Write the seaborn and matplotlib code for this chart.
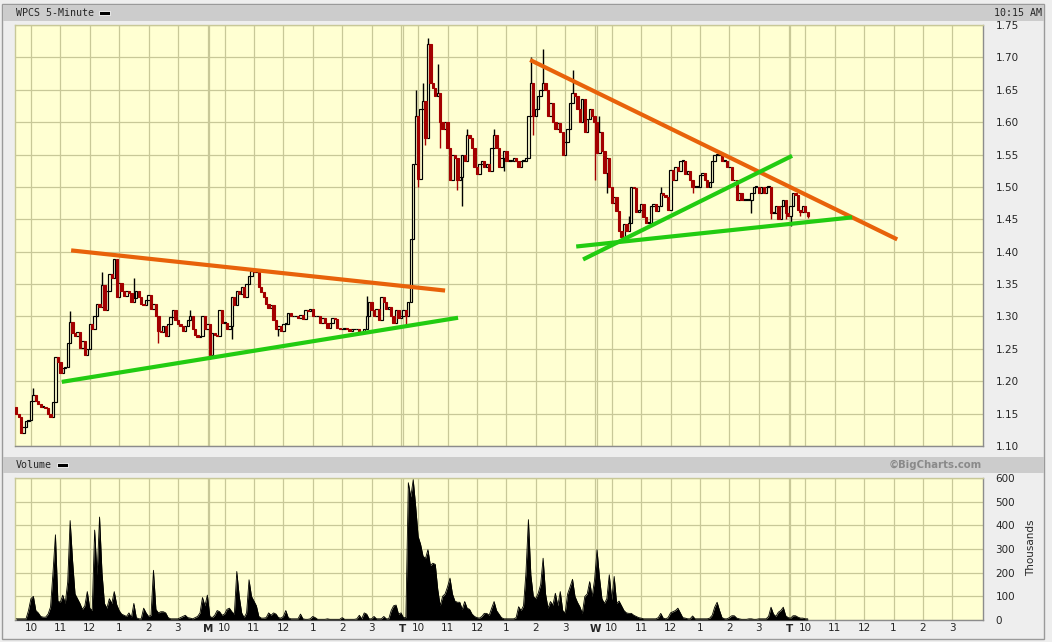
import numpy as np
import pandas as pd
import matplotlib
matplotlib.use("Agg")
import matplotlib.pyplot as plt
import matplotlib.transforms as mtransforms
from matplotlib.patches import Rectangle
import seaborn as sns

W, H = 1052, 642
SLOTS = 79  # 5-minute slots per session, 9:30 .. 16:00

# ---- values ----
session_letters = ["", "M", "T", "W", "T"]
hour_labels = ["10", "11", "12", "1", "2", "3"]
hour_slots = [6, 18, 30, 42, 54, 66]
price_ticks = [1.10, 1.15, 1.20, 1.25, 1.30, 1.35, 1.40, 1.45, 1.50, 1.55, 1.60, 1.65, 1.70, 1.75]
volume_ticks = [0, 100, 200, 300, 400, 500, 600]

first_open = 1.16
close_fri = [1.150, 1.145, 1.120, 1.130, 1.138, 1.140, 1.169, 1.179, 1.170, 1.165,
             1.160, 1.160, 1.158, 1.150, 1.145, 1.168, 1.238, 1.230, 1.212, 1.220,
             1.222, 1.259, 1.292, 1.274, 1.270, 1.276, 1.252, 1.262, 1.240, 1.250,
             1.288, 1.280, 1.300, 1.320, 1.314, 1.349, 1.310, 1.339, 1.365, 1.360,
             1.389, 1.330, 1.352, 1.340, 1.332, 1.339, 1.336, 1.322, 1.329, 1.339,
             1.330, 1.320, 1.318, 1.325, 1.333, 1.312, 1.320, 1.300, 1.278, 1.276,
             1.285, 1.270, 1.289, 1.299, 1.310, 1.295, 1.289, 1.285, 1.278, 1.285,
             1.295, 1.300, 1.280, 1.272, 1.268, 1.270, 1.300, 1.280, 1.288]
close_mon = [1.240, 1.275, 1.272, 1.270, 1.310, 1.290, 1.290, 1.280, 1.285, 1.330,
             1.318, 1.340, 1.335, 1.345, 1.330, 1.350, 1.362, 1.370, 1.368, 1.370,
             1.345, 1.338, 1.330, 1.320, 1.313, 1.318, 1.295, 1.280, 1.285, 1.278,
             1.288, 1.288, 1.305, 1.300, 1.300, 1.300, 1.298, 1.302, 1.296, 1.310,
             1.308, 1.312, 1.300, 1.300, 1.300, 1.290, 1.298, 1.290, 1.282, 1.290,
             1.298, 1.296, 1.282, 1.280, 1.280, 1.282, 1.280, 1.278, 1.280, 1.280,
             1.281, 1.275, 1.276, 1.280, 1.300, 1.322, 1.310, 1.300, 1.312, 1.295,
             1.330, 1.322, 1.312, 1.315, 1.300, 1.290, 1.310, 1.298, 1.300]
close_tue = [1.310, 1.300, 1.322, 1.420, 1.536, 1.610, 1.512, 1.620, 1.632, 1.575,
             1.720, 1.660, 1.652, 1.640, 1.645, 1.600, 1.590, 1.600, 1.560, 1.510,
             1.550, 1.545, 1.510, 1.515, 1.550, 1.540, 1.580, 1.575, 1.560, 1.530,
             1.520, 1.535, 1.540, 1.530, 1.535, 1.525, 1.560, 1.580, 1.560, 1.530,
             1.545, 1.555, 1.540, 1.540, 1.540, 1.545, 1.540, 1.530, 1.540, 1.540,
             1.545, 1.610, 1.660, 1.610, 1.620, 1.640, 1.650, 1.660, 1.650, 1.610,
             1.630, 1.600, 1.590, 1.598, 1.585, 1.550, 1.570, 1.590, 1.630, 1.645,
             1.640, 1.620, 1.600, 1.635, 1.585, 1.605, 1.620, 1.610, 1.600]
close_wed = [1.553, 1.585, 1.555, 1.522, 1.545, 1.500, 1.475, 1.484, 1.463, 1.432,
             1.422, 1.442, 1.432, 1.445, 1.500, 1.498, 1.462, 1.465, 1.473, 1.453,
             1.445, 1.445, 1.470, 1.473, 1.463, 1.470, 1.491, 1.488, 1.485, 1.465,
             1.526, 1.510, 1.530, 1.525, 1.540, 1.540, 1.520, 1.525, 1.510, 1.500,
             1.500, 1.500, 1.518, 1.522, 1.510, 1.500, 1.508, 1.540, 1.550, 1.550,
             1.550, 1.540, 1.540, 1.530, 1.530, 1.510, 1.510, 1.480, 1.490, 1.480,
             1.480, 1.480, 1.480, 1.490, 1.500, 1.500, 1.490, 1.500, 1.490, 1.500,
             1.500, 1.460, 1.460, 1.470, 1.450, 1.470, 1.480, 1.460, 1.455]
close_thu = [1.470, 1.490, 1.488, 1.464, 1.461, 1.470, 1.462, 1.455]

# volume in thousands
vol_fri = [5, 5, 5, 5, 5, 40, 90, 100, 40, 30,
           15, 12, 12, 25, 55, 200, 360, 80, 75, 105,
           70, 160, 420, 250, 110, 90, 70, 45, 60, 120,
           50, 40, 380, 190, 435, 200, 70, 50, 90, 70,
           120, 65, 40, 25, 20, 15, 30, 10, 70, 10,
           5, 5, 50, 30, 15, 20, 210, 45, 30, 35,
           35, 30, 10, 5, 5, 5, 5, 10, 15, 20,
           10, 8, 5, 10, 15, 30, 95, 60, 105]
vol_mon = [15, 10, 20, 40, 35, 20, 25, 45, 50, 35,
           25, 205, 100, 30, 10, 30, 170, 100, 80, 60,
           15, 8, 8, 10, 30, 20, 30, 25, 10, 8,
           15, 40, 10, 5, 5, 5, 5, 25, 5, 3,
           3, 5, 15, 10, 3, 3, 3, 3, 5, 3,
           3, 3, 3, 3, 10, 3, 3, 3, 3, 3,
           5, 20, 5, 30, 25, 5, 5, 15, 5, 5,
           5, 15, 5, 5, 40, 60, 63, 25, 30]
vol_tue = [10, 10, 580, 520, 593, 480, 353, 320, 270, 260,
           297, 230, 240, 235, 130, 60, 100, 110, 140, 177,
           110, 80, 75, 75, 45, 78, 50, 45, 25, 15,
           10, 8, 15, 28, 28, 20, 50, 78, 40, 25,
           10, 5, 5, 5, 5, 5, 10, 56, 40, 60,
           200, 424, 190, 100, 90, 113, 150, 261, 110, 50,
           78, 63, 113, 60, 120, 40, 30, 110, 140, 172,
           100, 75, 56, 28, 99, 110, 162, 99, 170]
vol_wed = [297, 180, 90, 70, 90, 191, 85, 184, 71, 80,
           60, 40, 30, 28, 28, 20, 15, 10, 8, 5,
           5, 5, 5, 5, 5, 10, 28, 8, 5, 10,
           30, 35, 40, 50, 30, 10, 8, 5, 5, 17,
           5, 5, 5, 5, 5, 5, 8, 20, 54, 75,
           40, 10, 5, 5, 10, 18, 18, 8, 5, 3,
           3, 3, 5, 5, 3, 3, 5, 5, 5, 5,
           15, 54, 25, 15, 33, 40, 54, 18, 10]
vol_thu = [8, 18, 18, 12, 8, 8, 5, 5]

# (session, slot, wick end price)
wick_points = [(0, 7, 1.19), (0, 22, 1.309), (0, 35, 1.369), (0, 48, 1.36), (0, 58, 1.259),
               (0, 71, 1.31), (1, 0, 1.235), (1, 9, 1.265), (1, 28, 1.27), (1, 64, 1.332),
               (2, 1, 1.285), (2, 5, 1.65), (2, 6, 1.50), (2, 8, 1.66), (2, 9, 1.565),
               (2, 10, 1.73), (2, 14, 1.69), (2, 15, 1.56), (2, 22, 1.495), (2, 24, 1.47),
               (2, 26, 1.59), (2, 37, 1.59), (2, 41, 1.525), (2, 52, 1.70), (2, 53, 1.58),
               (2, 57, 1.713), (2, 69, 1.68), (2, 78, 1.51), (3, 1, 1.61), (3, 4, 1.49),
               (3, 10, 1.415), (3, 13, 1.455), (3, 26, 1.50), (3, 39, 1.49), (3, 63, 1.46),
               (3, 71, 1.45), (3, 77, 1.45), (4, 0, 1.44), (4, 4, 1.455), (4, 7, 1.452)]

# trend lines drawn on the chart: (slot0, price0, slot1, price1)
trend_orange = [(22.4, 1.402, 175.0, 1.340), (209.7, 1.696, 359.5, 1.419)]
trend_green = [(18.6, 1.199, 180.3, 1.298), (228.5, 1.408, 341.1, 1.453),
               (231.3, 1.388, 316.6, 1.548)]

BG = "#EEEEEE"
PLOT_BG = "#FFFFD2"
GRID = "#C8C898"
DOWN = "#A30000"
ORANGE = "#E8620A"
GREEN = "#22CC11"
FRAME = "#8C8C8C"


def fig_box(x0, y0, x1, y1):
    """Pixel box (top-left origin) to figure fraction."""
    return [x0 / W, 1 - y1 / H, (x1 - x0) / W, (y1 - y0) / H]


def build_frame():
    closes = [close_fri, close_mon, close_tue, close_wed, close_thu]
    vols = [vol_fri, vol_mon, vol_tue, vol_wed, vol_thu]
    rows = []
    for d, (cl, vo) in enumerate(zip(closes, vols)):
        for i, c in enumerate(cl):
            rows.append({"day": d, "slot": i, "x": d * SLOTS + i, "close": c,
                         "volume": vo[i] if i < len(vo) else 0})
    df = pd.DataFrame(rows)
    df["open"] = df["close"].shift(1).fillna(first_open)
    return df


def style_axes(ax, ylim, yticks, ylabels):
    ax.set_facecolor(PLOT_BG)
    ax.set_xlim(-0.5, 5 * SLOTS - 0.5)
    ax.set_ylim(*ylim)
    for d in range(5):
        for h in hour_slots:
            ax.axvline(d * SLOTS + h, color=GRID, lw=0.9, zorder=0)
        if d > 0:
            b = d * SLOTS - 0.5
            ax.axvline(b - 0.35, color=GRID, lw=0.9, zorder=0)
            ax.axvline(b + 0.35, color=GRID, lw=0.9, zorder=0)
    for t in yticks:
        ax.axhline(t, color=GRID, lw=0.9, zorder=0)
    ax.yaxis.tick_right()
    ax.set_yticks(yticks)
    ax.set_yticklabels(ylabels)
    ax.tick_params(axis="y", length=0, pad=9, labelsize=7.5)
    ax.set_xticks([])
    ax.set_xlabel("")
    ax.set_ylabel("")
    for side in ["top", "left"]:
        ax.spines[side].set_color(GRID)
    for side in ["right", "bottom"]:
        ax.spines[side].set_color(FRAME)
    for sp in ax.spines.values():
        sp.set_linewidth(1.0)


def draw_candles(ax, df):
    up = df["close"] >= df["open"]
    lo = np.minimum(df["open"], df["close"])
    hgt = np.maximum((df["close"] - df["open"]).abs(), 0.0012)
    ax.bar(df.loc[up, "x"], hgt[up], bottom=lo[up], width=0.95,
           facecolor=PLOT_BG, edgecolor="black", linewidth=0.85, zorder=3)
    ax.bar(df.loc[~up, "x"], hgt[~up], bottom=lo[~up], width=0.95,
           facecolor=DOWN, edgecolor=DOWN, linewidth=0.8, zorder=3)
    for d, s, p in wick_points:
        row = df[(df["day"] == d) & (df["slot"] == s)]
        if row.empty:
            continue
        r = row.iloc[0]
        top = max(r["open"], r["close"])
        bot = min(r["open"], r["close"])
        col = "black" if r["close"] >= r["open"] else DOWN
        if p > top:
            ax.vlines(r["x"], top, p, color=col, lw=1.0, zorder=2)
        elif p < bot:
            ax.vlines(r["x"], p, bot, color=col, lw=1.0, zorder=2)


def draw_trends(ax, lines, color):
    pts = []
    for k, (x0, y0, x1, y1) in enumerate(lines):
        pts.append({"line": k, "x": x0, "price": y0})
        pts.append({"line": k, "x": x1, "price": y1})
    tdf = pd.DataFrame(pts)
    sns.lineplot(data=tdf, x="x", y="price", units="line", estimator=None,
                 color=color, lw=3, ax=ax, legend=False, zorder=5,
                 solid_capstyle="butt")


def main():
    sns.set_theme(style="white")
    plt.rcParams["font.family"] = ["DejaVu Sans"]
    df = build_frame()

    fig = plt.figure(figsize=(W / 100, H / 100), dpi=100)
    fig.patch.set_facecolor(BG)

    # frame and header bands
    fig.add_artist(Rectangle((1.5 / W, 1 - 639 / H), 1042.5 / W, 635.5 / H,
                             transform=fig.transFigure, fill=False,
                             edgecolor="#9A9A9A", lw=1))
    for y0, y1 in [(4.5, 20.5), (456.5, 472.5)]:
        fig.add_artist(Rectangle((2.5 / W, 1 - y1 / H), 1041.5 / W, (y1 - y0) / H,
                                 transform=fig.transFigure, color="#CCCCCC", lw=0))

    mono = "DejaVu Sans Mono"
    fig.text(16 / W, 1 - 12.5 / H, "WPCS 5-Minute", family=mono, size=7.2, va="center")
    fig.add_artist(Rectangle((99 / W, 1 - 14.5 / H), 11 / W, 4 / H,
                             transform=fig.transFigure, facecolor="black",
                             edgecolor="white", lw=0.6))
    fig.text(1042 / W, 1 - 12.5 / H, "10:15 AM", family=mono, size=7.2,
             va="center", ha="right")
    fig.text(16 / W, 1 - 464.5 / H, "Volume", family=mono, size=7.2, va="center")
    fig.add_artist(Rectangle((57 / W, 1 - 466.5 / H), 11 / W, 4 / H,
                             transform=fig.transFigure, facecolor="black",
                             edgecolor="white", lw=0.6))
    fig.text(982 / W, 1 - 464.5 / H, "\u00a9BigCharts.com", size=7.3, weight="bold",
             color="#8A8A8A", va="center", ha="right")

    # price panel
    ax_p = fig.add_axes(fig_box(15, 25, 983, 446))
    style_axes(ax_p, (1.10, 1.75), price_ticks, [f"{t:.2f}" for t in price_ticks])
    draw_candles(ax_p, df)
    draw_trends(ax_p, trend_orange, ORANGE)
    draw_trends(ax_p, trend_green, GREEN)
    ax_p.set_xlabel("")
    ax_p.set_ylabel("")

    # volume panel
    ax_v = fig.add_axes(fig_box(15, 478, 983, 620))
    style_axes(ax_v, (0, 600), volume_ticks, [str(t) for t in volume_ticks])
    ax_v.fill_between(df["x"], 0, df["volume"], color="black", lw=0, zorder=3)
    sns.lineplot(x=df["x"], y=df["volume"], color="black", lw=0.6, ax=ax_v, zorder=3)
    ax_v.set_xlim(-0.5, 5 * SLOTS - 0.5)
    ax_v.set_ylim(0, 600)
    ax_v.set_xlabel("")
    ax_v.set_ylabel("")

    xt = [d * SLOTS + h for d in range(5) for h in hour_slots]
    ax_v.set_xticks(xt)
    ax_v.set_xticklabels(hour_labels * 5)
    ax_v.tick_params(axis="x", length=0, pad=2.5, labelsize=7.5)
    trans = mtransforms.blended_transform_factory(ax_v.transData, ax_v.transAxes)
    for d, letter in enumerate(session_letters):
        if letter:
            ax_v.text(d * SLOTS - 0.5, -3.5 / 142, letter, transform=trans,
                      ha="center", va="top", fontsize=7.5, fontweight="bold")

    fig.text(1031 / W, 1 - 548 / H, "Thousands", rotation=90, size=7.5,
             va="center", ha="center")

    fig.savefig("out.png", dpi=100, facecolor=BG)


if __name__ == "__main__":
    main()
